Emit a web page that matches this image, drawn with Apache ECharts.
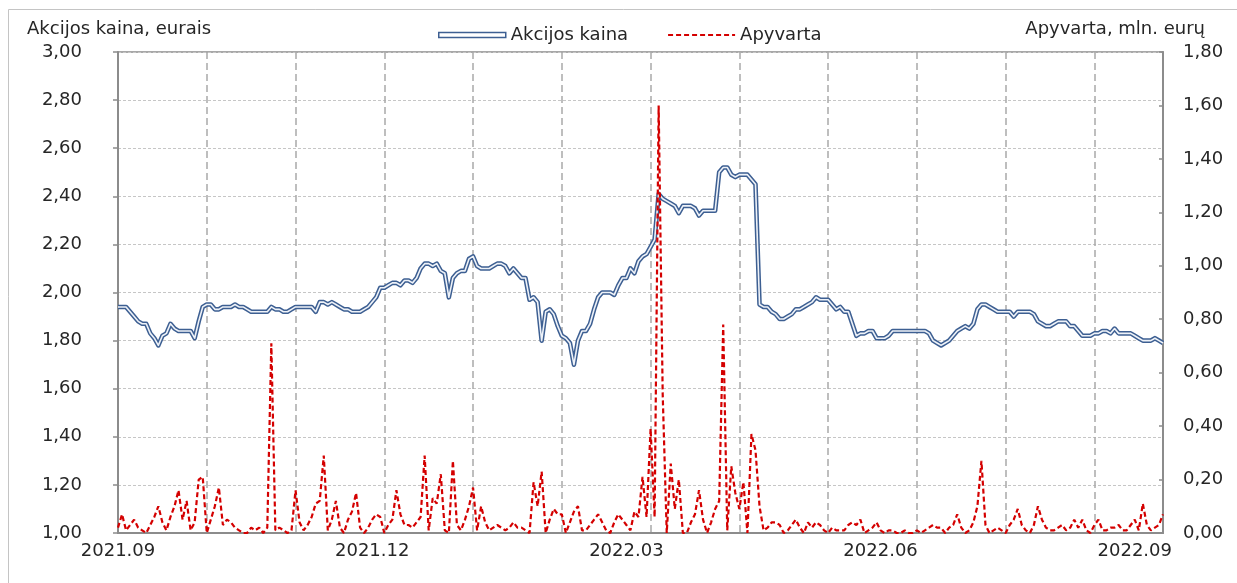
<!DOCTYPE html>
<html><head><meta charset="utf-8">
<script src="https://cdn.jsdelivr.net/npm/echarts@6/dist/echarts.min.js"></script>
<style>html,body{margin:0;padding:0;background:#fff}#c{width:1237px;height:583px}</style>
</head><body><div id="c"></div>
<script>
// Share price (EUR), one value per trading day
const price = [
1.94,1.94,1.94,1.92,1.90,1.88,1.87,1.87,1.83,1.81,
1.78,1.82,1.83,1.87,1.85,1.84,1.84,1.84,1.84,1.81,
1.88,1.94,1.95,1.95,1.93,1.93,1.94,1.94,1.94,1.95,
1.94,1.94,1.93,1.92,1.92,1.92,1.92,1.92,1.94,1.93,
1.93,1.92,1.92,1.93,1.94,1.94,1.94,1.94,1.94,1.92,
1.96,1.96,1.95,1.96,1.95,1.94,1.93,1.93,1.92,1.92,
1.92,1.93,1.94,1.96,1.98,2.02,2.02,2.03,2.04,2.04,
2.03,2.05,2.05,2.04,2.06,2.10,2.12,2.12,2.11,2.12,
2.09,2.08,1.98,2.06,2.08,2.09,2.09,2.14,2.15,2.11,
2.10,2.10,2.10,2.11,2.12,2.12,2.11,2.08,2.10,2.08,
2.06,2.06,1.97,1.98,1.96,1.80,1.92,1.93,1.91,1.86,
1.82,1.81,1.79,1.70,1.80,1.84,1.84,1.87,1.93,1.98,
2.00,2.00,2.00,1.99,2.03,2.06,2.06,2.10,2.08,2.13,
2.15,2.16,2.19,2.22,2.41,2.39,2.38,2.37,2.36,2.33,
2.36,2.36,2.36,2.35,2.32,2.34,2.34,2.34,2.34,2.50,
2.52,2.52,2.49,2.48,2.49,2.49,2.49,2.47,2.45,1.95,
1.94,1.94,1.92,1.91,1.89,1.89,1.90,1.91,1.93,1.93,
1.94,1.95,1.96,1.98,1.97,1.97,1.97,1.95,1.93,1.94,
1.92,1.92,1.87,1.82,1.83,1.83,1.84,1.84,1.81,1.81,
1.81,1.82,1.84,1.84,1.84,1.84,1.84,1.84,1.84,1.84,
1.84,1.83,1.80,1.79,1.78,1.79,1.80,1.82,1.84,1.85,
1.86,1.85,1.87,1.93,1.95,1.95,1.94,1.93,1.92,1.92,
1.92,1.92,1.90,1.92,1.92,1.92,1.92,1.91,1.88,1.87,
1.86,1.86,1.87,1.88,1.88,1.88,1.86,1.86,1.84,1.82,
1.82,1.82,1.83,1.83,1.84,1.84,1.83,1.85,1.83,1.83,
1.83,1.83,1.82,1.81,1.80,1.80,1.80,1.81,1.80,1.79
];
// Turnover (mln. EUR)
const turnover = [
0.02,0.07,0.01,0.03,0.05,0.02,0.01,0.00,0.03,0.06,
0.10,0.04,0.01,0.06,0.10,0.16,0.05,0.12,0.01,0.04,
0.20,0.21,0.00,0.05,0.10,0.17,0.03,0.05,0.04,0.02,
0.01,0.00,0.00,0.02,0.01,0.02,0.00,0.02,0.71,0.01,
0.02,0.01,0.00,0.01,0.16,0.04,0.01,0.03,0.06,0.11,
0.12,0.29,0.01,0.05,0.12,0.02,0.00,0.05,0.08,0.15,
0.02,0.00,0.02,0.05,0.07,0.06,0.00,0.03,0.05,0.16,
0.07,0.03,0.03,0.02,0.04,0.06,0.29,0.01,0.13,0.11,
0.22,0.01,0.00,0.27,0.03,0.01,0.05,0.10,0.17,0.01,
0.10,0.04,0.01,0.02,0.03,0.02,0.01,0.02,0.04,0.02,
0.02,0.01,0.00,0.19,0.10,0.23,0.00,0.05,0.09,0.07,
0.07,0.00,0.04,0.08,0.10,0.01,0.01,0.03,0.05,0.07,
0.04,0.01,0.00,0.04,0.07,0.05,0.03,0.01,0.08,0.06,
0.21,0.06,0.39,0.06,1.60,0.52,0.00,0.26,0.09,0.20,
0.00,0.00,0.04,0.07,0.16,0.05,0.00,0.04,0.09,0.12,
0.78,0.01,0.25,0.15,0.09,0.19,0.00,0.37,0.31,0.10,
0.01,0.02,0.04,0.04,0.03,0.00,0.01,0.03,0.05,0.02,
0.00,0.04,0.02,0.04,0.03,0.01,0.00,0.02,0.01,0.01,
0.01,0.03,0.04,0.03,0.05,0.00,0.01,0.02,0.04,0.01,
0.00,0.01,0.01,0.00,0.00,0.01,0.00,0.00,0.01,0.00,
0.01,0.02,0.03,0.02,0.02,0.00,0.02,0.03,0.07,0.02,
0.00,0.01,0.04,0.10,0.27,0.03,0.00,0.01,0.02,0.01,
0.00,0.03,0.05,0.09,0.03,0.01,0.00,0.03,0.10,0.05,
0.02,0.01,0.01,0.02,0.03,0.01,0.02,0.05,0.02,0.05,
0.01,0.00,0.03,0.05,0.01,0.01,0.02,0.02,0.03,0.01,
0.01,0.03,0.05,0.01,0.11,0.03,0.01,0.02,0.03,0.07
];
const tickLabels = ['2021.09','2021.12','2022.03','2022.06','2022.09'];
const labelStep = 63;   // categories between x labels
const gridStep = 22;    // categories between vertical gridlines

// trading-day categories
const dates = [];
(function(){
  const d = new Date(Date.UTC(2021, 8, 1));
  while (dates.length < price.length) {
    const wd = d.getUTCDay();
    if (wd !== 0 && wd !== 6) dates.push(d.toISOString().slice(0,10));
    d.setUTCDate(d.getUTCDate() + 1);
  }
})();

const FONT = 'DejaVu Sans';
const TXT = '#262626';
const AX = '#8c8c8c';
const RED = '#d40000';
const fmt = v => v.toFixed(2).replace('.', ',');

// dashed legend icon path (67 px wide)
let dashPath = 'path://';
for (let x = 0; x < 67; x += 8) {
  const w = Math.min(5, 67 - x);
  dashPath += 'M' + x + ',0H' + (x + w) + 'V2.2H' + x + 'Z';
}

const chart = echarts.init(document.getElementById('c'));
chart.setOption({
  animation: false,
  backgroundColor: '#fff',
  textStyle: { fontFamily: FONT },
  grid: { left: 118, right: 74, top: 52, bottom: 50, show: true, borderColor: AX, borderWidth: 1.5, backgroundColor: 'transparent' },
  legend: {
    left: 433, top: 21, itemWidth: 67, itemHeight: 12, itemGap: 40,
    textStyle: { fontSize: 18, color: TXT, fontFamily: FONT },
    data: [
      { name: 'Akcijos kaina', icon: 'path://M0,0H67V5H0Z', itemStyle: { color: '#ffffff', borderColor: '#3d5f92', borderWidth: 1.5 } },
      { name: 'Apyvarta', icon: dashPath, itemStyle: { color: RED, borderWidth: 0 } }
    ]
  },
  graphic: [
    { type: 'rect', silent: true, shape: { x: 8.5, y: 9.5, width: 1400, height: 800 }, style: { fill: null, stroke: '#c4c4c4', lineWidth: 1 } },
    { type: 'text', left: 27, top: 20, style: { text: 'Akcijos kaina, eurais', font: '18px "DejaVu Sans"', fill: TXT } },
    { type: 'text', right: 32, top: 20, style: { text: 'Apyvarta, mln. eurų', font: '18px "DejaVu Sans"', fill: TXT } }
  ],
  xAxis: {
    type: 'category', data: dates, boundaryGap: false,
    axisLine: { lineStyle: { color: AX, width: 2 } },
    axisTick: { show: false },
    axisLabel: { interval: labelStep - 1, formatter: (v, i) => tickLabels[Math.round(i / labelStep)], fontSize: 18, color: TXT, margin: 9, fontFamily: FONT },
    splitLine: { show: true, interval: gridStep - 1, lineStyle: { color: '#a9a9a9', type: [7, 4], width: 1.5 } }
  },
  yAxis: [
    {
      type: 'value', min: 1, max: 3, interval: 0.2, position: 'left',
      axisLine: { show: true, lineStyle: { color: AX, width: 2 } },
      axisTick: { show: true, length: 5, lineStyle: { color: AX, width: 1.5 } },
      axisLabel: { formatter: fmt, fontSize: 18, color: TXT, margin: 36, fontFamily: FONT },
      splitLine: { show: true, lineStyle: { color: '#c6c6c6', type: [3, 2], width: 1.2 } }
    },
    {
      type: 'value', min: 0, max: 1.8, interval: 0.2, position: 'right',
      axisLine: { show: true, lineStyle: { color: AX, width: 2 } },
      axisTick: { show: true, inside: true, length: 4, lineStyle: { color: AX, width: 1.5 } },
      axisLabel: { formatter: fmt, fontSize: 18, color: TXT, margin: 20, fontFamily: FONT },
      splitLine: { show: false }
    }
  ],
  series: [
    { name: 'Akcijos kaina', type: 'line', yAxisIndex: 0, data: price, symbol: 'none', z: 3,
      lineStyle: { color: '#3d5f92', width: 4.6, join: 'round' }, itemStyle: { color: '#3d5f92' } },
    { name: 'kaina_inner', type: 'line', yAxisIndex: 0, data: price, symbol: 'none', z: 4, silent: true,
      lineStyle: { color: '#eef2f8', width: 1.6, join: 'round' } },
    { name: 'Apyvarta', type: 'line', yAxisIndex: 1, data: turnover, symbol: 'none', z: 5,
      lineStyle: { color: RED, width: 2.2, type: [5, 3] }, itemStyle: { color: RED } }
  ]
});
</script></body></html>
